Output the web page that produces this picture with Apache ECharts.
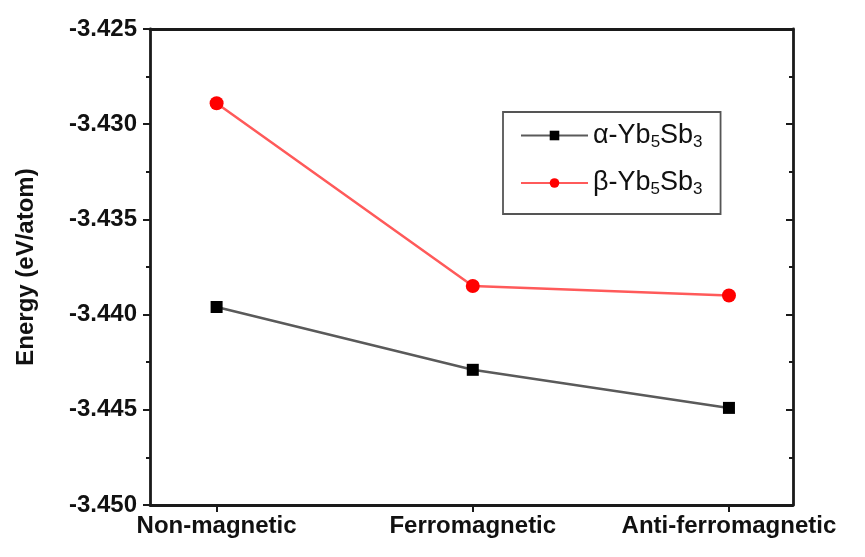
<!DOCTYPE html>
<html>
<head>
<meta charset="utf-8">
<script src="https://cdn.jsdelivr.net/npm/echarts@6/dist/echarts.min.js"></script>
<style>
html,body{margin:0;padding:0;background:#fff;}
#chart{width:865px;height:557px;}
</style>
</head>
<body>
<div id="chart"></div>
<script>
const categories = ['Non-magnetic', 'Ferromagnetic', 'Anti-ferromagnetic'];
const alphaValues = [-3.4396, -3.4429, -3.4449];
const betaValues = [-3.4289, -3.4385, -3.4390];
const seriesNames = ['α-Yb5Sb3', 'β-Yb5Sb3'];
const yAxisName = 'Energy (eV/atom)';

const chart = echarts.init(document.getElementById('chart'));
const font = 'Liberation Sans, Arial, sans-serif';
const axisColor = '#1a1a1a';

function legendFmt(name) {
  const greek = name.charAt(0);
  return '{n|' + greek + '-Yb}{s|5}{n|Sb}{s|3}';
}

const option = {
  backgroundColor: '#fff',
  animation: false,
  grid: { left: 150, right: 72, top: 29, bottom: 52 },
  legend: {
    orient: 'vertical',
    left: 503,
    top: 112,
    data: seriesNames,
    padding: [10, 18, 16, 17],
    itemGap: 19,
    itemWidth: 67,
    itemHeight: 12,
    borderColor: '#555',
    borderWidth: 1.8,
    backgroundColor: '#fff',
    formatter: legendFmt,
    textStyle: {
      fontFamily: font,
      color: '#111',
      rich: {
        n: { fontSize: 27, fontFamily: font, color: '#111' },
        s: { fontSize: 17, fontFamily: font, color: '#111', padding: [13, 0, 0, 0] }
      }
    }
  },
  xAxis: [
    {
      type: 'value',
      min: -0.26,
      max: 2.25,
      position: 'bottom',
      splitLine: { show: false },
      axisLine: { show: true, onZero: false, lineStyle: { color: axisColor, width: 2.8 } },
      axisTick: { show: true, customValues: [0, 1, 2], length: 7, lineStyle: { color: axisColor, width: 2 } },
      axisLabel: {
        customValues: [0, 1, 2],
        formatter: function (v) { return categories[Math.round(v)]; },
        fontFamily: font, fontWeight: 'bold', fontSize: 24, color: '#111', margin: 9
      }
    },
    {
      type: 'value',
      min: -0.26,
      max: 2.25,
      position: 'top',
      splitLine: { show: false },
      axisLine: { show: true, onZero: false, lineStyle: { color: axisColor, width: 2.8 } },
      axisTick: { show: false },
      axisLabel: { show: false }
    }
  ],
  yAxis: [
    {
      type: 'value',
      min: -3.450,
      max: -3.425,
      interval: 0.005,
      position: 'left',
      name: yAxisName,
      nameLocation: 'middle',
      nameGap: 112,
      nameTextStyle: { fontFamily: font, fontWeight: 'bold', fontSize: 24, color: '#111' },
      splitLine: { show: false },
      axisLine: { show: true, onZero: false, lineStyle: { color: axisColor, width: 2.8 } },
      axisTick: { show: true, length: 7, lineStyle: { color: axisColor, width: 2 } },
      minorTick: { show: true, splitNumber: 2, length: 4, lineStyle: { color: axisColor, width: 2 } },
      axisLabel: {
        formatter: function (v) { return v.toFixed(3); },
        fontFamily: font, fontWeight: 'bold', fontSize: 24, color: '#111', margin: 13
      }
    },
    {
      type: 'value',
      min: -3.450,
      max: -3.425,
      interval: 0.005,
      position: 'right',
      splitLine: { show: false },
      axisLine: { show: true, onZero: false, lineStyle: { color: axisColor, width: 2.8 } },
      axisTick: { show: true, inside: true, length: 7, lineStyle: { color: axisColor, width: 2 } },
      minorTick: { show: true, splitNumber: 2, length: 4, lineStyle: { color: axisColor, width: 2 } },
      axisLabel: { show: false }
    }
  ],
  series: [
    {
      name: seriesNames[0],
      type: 'line',
      data: alphaValues.map(function (v, i) { return [i, v]; }),
      symbol: 'rect',
      symbolSize: 12,
      itemStyle: { color: '#000' },
      lineStyle: { color: '#5a5a5a', width: 2.5 },
      z: 3
    },
    {
      name: seriesNames[1],
      type: 'line',
      data: betaValues.map(function (v, i) { return [i, v]; }),
      symbol: 'circle',
      symbolSize: 14,
      itemStyle: { color: '#ff0000' },
      lineStyle: { color: '#ff5a5a', width: 2.5 },
      z: 3
    }
  ]
};
chart.setOption(option);
</script>
</body>
</html>
